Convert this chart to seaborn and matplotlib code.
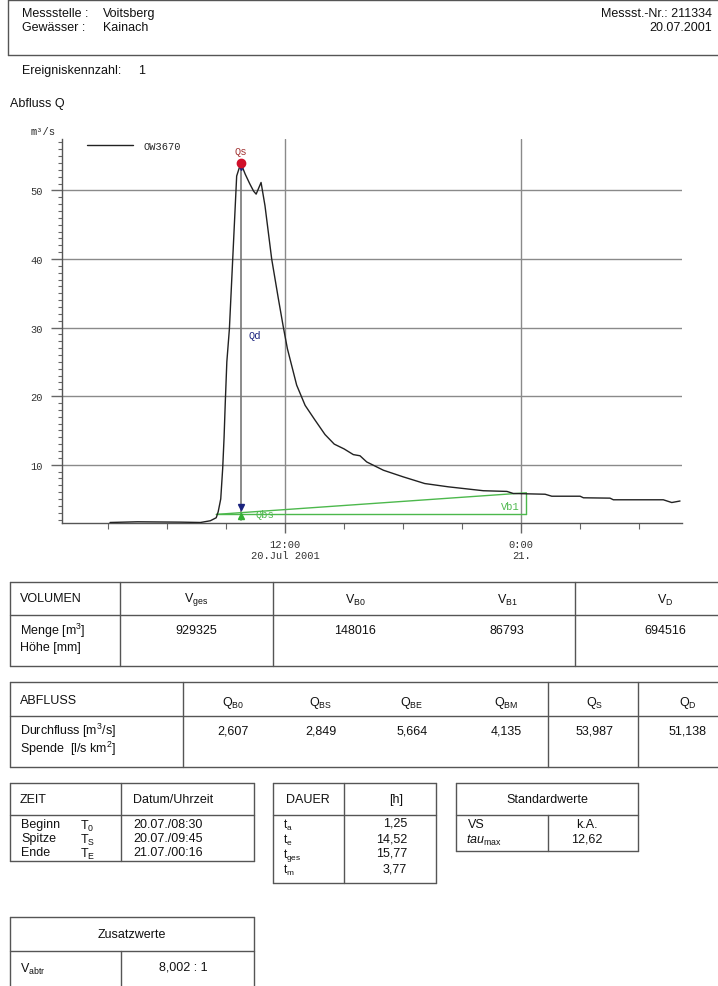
import matplotlib
matplotlib.use("Agg")
import matplotlib.pyplot as plt
import seaborn as sns
from matplotlib.font_manager import FontProperties

# hydrograph (hours since 20.07.2001 00:00, m3/s)
hours = [3.1, 4.5, 6.7, 7.7, 8.2, 8.5, 8.6, 8.73, 8.83, 8.9, 8.96, 9.04, 9.17, 9.54, 9.75,
         9.97, 10.2, 10.4, 10.53, 10.78, 10.98, 11.32, 11.66, 11.91, 12.12, 12.59, 13.02,
         13.5, 14.03, 14.5, 15.0, 15.47, 15.81, 16.15, 17.0, 18.01, 19.1, 20.3, 21.3,
         22.08, 23.28, 23.6, 24.3, 25.22, 25.56, 27.0, 27.17, 28.52, 28.69, 31.23, 31.66, 32.08]
q = [1.57, 1.67, 1.62, 1.57, 1.82, 2.26, 3.13, 5.0, 9.5, 14.0, 19.0, 25.0, 29.8, 52.1, 53.99,
     52.4, 51.0, 49.9, 49.46, 51.16, 47.76, 40.0, 34.2, 30.1, 26.9, 21.6, 18.65,
     16.6, 14.4, 13.0, 12.3, 11.47, 11.3, 10.4, 9.19, 8.22, 7.25, 6.77, 6.45,
     6.2, 6.1, 5.8, 5.75, 5.69, 5.40, 5.40, 5.17, 5.12, 4.88, 4.88, 4.48, 4.70]

t0, ts, te = 8.5, 9.75, 24.27
qs = 53.987
qb_start, qb_end = 2.75, 5.9
qbs = 2.849

sns.set_style("white")
plt.rcParams['font.family'] = ['Liberation Sans', 'DejaVu Sans']
plt.rcParams['mathtext.fontset'] = 'custom'
plt.rcParams['mathtext.rm'] = 'Liberation Sans'
plt.rcParams['mathtext.it'] = 'Liberation Sans:italic'
mono = FontProperties(family='Liberation Mono', size=7.5)

fig = plt.figure(figsize=(7.18, 9.87), dpi=100)

# page layer in pixel coordinates
pg = fig.add_axes([0, 0, 1, 1])
pg.set_xlim(0, 718)
pg.set_ylim(987, 0)
pg.axis('off')

lc = '#555555'
FS = 9


def hline(y, x0, x1):
    pg.plot([x0, x1], [y, y], color=lc, lw=1)


def vline(x, y0, y1):
    pg.plot([x, x], [y0, y1], color=lc, lw=1)


def txt(x, y, s, ha='left', **kw):
    pg.text(x, y, s, ha=ha, va='center', fontsize=kw.pop('fs', FS), color='#111111', **kw)


# header box
hline(1, 8, 718)
hline(56, 8, 718)
vline(8, 1, 56)
txt(22, 14, "Messstelle :")
txt(22, 28, "Gewässer :")
txt(103, 14, "Voitsberg")
txt(103, 28, "Kainach")
txt(712, 14, "Messst.-Nr.: 211334", ha='right')
txt(712, 28, "20.07.2001", ha='right')
txt(22, 71, "Ereigniskennzahl:")
txt(138, 71, "1")
txt(10, 104, "Abfluss Q")

# VOLUMEN table
vol_heads = ["V$_{\\rm ges}$", "V$_{\\rm B0}$", "V$_{\\rm B1}$", "V$_{\\rm D}$"]
vol_vals = ["929325", "148016", "86793", "694516"]
vol_cx = [196, 355, 507, 665]
top, mid, bot = 583, 616, 667
hline(top, 10, 718); hline(mid, 10, 718); hline(bot, 10, 718)
for x in [10, 120, 273, 575]:
    vline(x, top, bot)
txt(20, 599, "VOLUMEN")
txt(20, 631, "Menge [m$^{3}$]")
txt(20, 648, "Höhe [mm]")
for h, v, cx in zip(vol_heads, vol_vals, vol_cx):
    txt(cx, 600, h, ha='center')
    txt(cx, 631, v, ha='center')

# ABFLUSS table
abf_heads = ["Q$_{\\rm B0}$", "Q$_{\\rm BS}$", "Q$_{\\rm BE}$", "Q$_{\\rm BM}$", "Q$_{\\rm S}$", "Q$_{\\rm D}$"]
abf_vals = ["2,607", "2,849", "5,664", "4,135", "53,987", "51,138"]
abf_cx = [233, 321, 412, 506, 595, 688]
top, mid, bot = 683, 717, 768
hline(top, 10, 718); hline(mid, 10, 718); hline(bot, 10, 718)
for x in [10, 183, 548, 638]:
    vline(x, top, bot)
txt(20, 701, "ABFLUSS")
txt(20, 731, "Durchfluss [m$^{3}$/s]")
txt(20, 749, "Spende  [l/s km$^{2}$]")
for h, v, cx in zip(abf_heads, abf_vals, abf_cx):
    txt(cx, 703, h, ha='center')
    txt(cx, 731, v, ha='center')

# ZEIT table
top, mid, bot = 784, 816, 862
hline(top, 10, 254); hline(mid, 10, 254); hline(bot, 10, 254)
for x in [10, 121, 254]:
    vline(x, top, bot)
txt(20, 800, "ZEIT")
txt(133, 800, "Datum/Uhrzeit")
zeit_lab = ["Beginn", "Spitze", "Ende"]
zeit_sym = ["T$_{\\rm 0}$", "T$_{\\rm S}$", "T$_{\\rm E}$"]
zeit_val = ["20.07./08:30", "20.07./09:45", "21.07./00:16"]
for i, (a, b, c) in enumerate(zip(zeit_lab, zeit_sym, zeit_val)):
    y = 825 + i * 14
    txt(21, y, a)
    txt(80, y + 1, b)
    txt(133, y, c)

# DAUER table
top, mid, bot = 784, 816, 884
hline(top, 273, 436); hline(mid, 273, 436); hline(bot, 273, 436)
for x in [273, 344, 436]:
    vline(x, top, bot)
txt(286, 800, "DAUER")
txt(396, 800, "[h]", ha='center')
dauer_sym = ["t$_{\\rm a}$", "t$_{\\rm e}$", "t$_{\\rm ges}$", "t$_{\\rm m}$"]
dauer_val = ["1,25", "14,52", "15,77", "3,77"]
for i, (a, b) in enumerate(zip(dauer_sym, dauer_val)):
    y = 824 + i * 15
    txt(283, y + 1, a, fs=8.5)
    txt(407, y, b, ha='right')

# Standardwerte table
top, mid, bot = 784, 816, 852
hline(top, 456, 638); hline(mid, 456, 638); hline(bot, 456, 638)
vline(456, top, bot); vline(638, top, bot); vline(548, mid, bot)
txt(547, 800, "Standardwerte", ha='center')
txt(468, 825, "VS")
txt(466, 840, "$\\it{tau}_{\\rm max}$")
txt(587, 825, "k.A.", ha='center')
txt(587, 839, "12,62", ha='center')

# Zusatzwerte table
top, mid = 918, 952
hline(top, 10, 254); hline(mid, 10, 254)
vline(10, top, 987); vline(254, top, 987); vline(121, mid, 987)
txt(132, 935, "Zusatzwerte", ha='center')
txt(20, 969, "V$_{\\rm abtr}$")
txt(183, 967, "8,002 : 1", ha='center')

# hydrograph chart
ax = fig.add_axes([62 / 718, 1 - 524.3 / 987, 620 / 718, 384.3 / 987])
ax.set_facecolor('none')
sns.lineplot(x=hours, y=q, ax=ax, color='#222222', lw=1.0, label='OW3670', zorder=5)
ax.set_xlim(0.66, 32.18)
ax.set_ylim(1.45, 57.5)

ax.set_yticks([10, 20, 30, 40, 50])
ax.set_yticks(range(2, 58), minor=True)
ax.set_xticks([12, 24])
ax.set_xticklabels(["12:00\n20.Jul 2001", "0:00\n21."])
ax.set_xticks([3, 6, 9, 15, 18, 21, 27, 30], minor=True)
for lab in ax.get_xticklabels() + ax.get_yticklabels():
    lab.set_fontproperties(mono)
    lab.set_color('#333333')
ax.tick_params(axis='y', which='major', length=8, width=1, color='#666666', pad=6, left=True)
ax.tick_params(axis='y', which='minor', length=3, width=0.8, color='#666666', left=True)
ax.tick_params(axis='x', which='major', length=7, width=1, color='#666666', pad=4, bottom=True)
ax.tick_params(axis='x', which='minor', length=4, width=0.8, color='#666666', bottom=True)
ax.grid(which='major', color='#8a8a8a', lw=1)
for s in ['top', 'right']:
    ax.spines[s].set_visible(False)
for s in ['left', 'bottom']:
    ax.spines[s].set_color('#555555')
    ax.spines[s].set_linewidth(1)
ax.set_xlabel('')
ax.set_ylabel('')
ax.text(-0.03, 1.02, "m³/s", transform=ax.transAxes, ha='center', va='center', fontproperties=mono)

# base flow separation
green = '#4cb84c'
ax.plot([t0, te], [qb_start, qb_end], color=green, lw=1, zorder=4)
ax.plot([t0, te], [qb_start, qb_start], color=green, lw=1, zorder=4)
ax.plot([te, te], [qb_start, qb_end], color=green, lw=1, zorder=4)
ax.text(te - 0.35, 3.95, "Vb1", color=green, ha='right', va='center', fontproperties=mono)

# peak and direct runoff
ax.plot([ts, ts], [qs, 2.0], color='#777777', lw=1.2, zorder=3)
ax.plot([ts], [3.9], marker='v', color='#1a237e', ms=5, zorder=6)
ax.plot([ts], [2.45], marker='^', color='#33b033', ms=5, zorder=6)
ax.plot([ts], [53.4], marker='v', color='#1a237e', ms=5, zorder=6)
ax.plot([ts], [qs], marker='o', color='#d0102a', ms=6, zorder=7)
ax.text(ts, 55.7, "Qs", color='#a03030', ha='center', va='center', fontproperties=mono)
ax.text(10.15, 28.9, "Qd", color='#1a237e', ha='left', va='center', fontproperties=mono)
ax.text(10.5, 2.8, "Qbs", color=green, ha='left', va='center', fontproperties=mono)

ax.legend(loc='center left', bbox_to_anchor=(0.04, 0.983), frameon=False, handlelength=4.4,
          borderpad=0, borderaxespad=0, handletextpad=1.0, prop=mono)

fig.savefig("out.png", dpi=100)
